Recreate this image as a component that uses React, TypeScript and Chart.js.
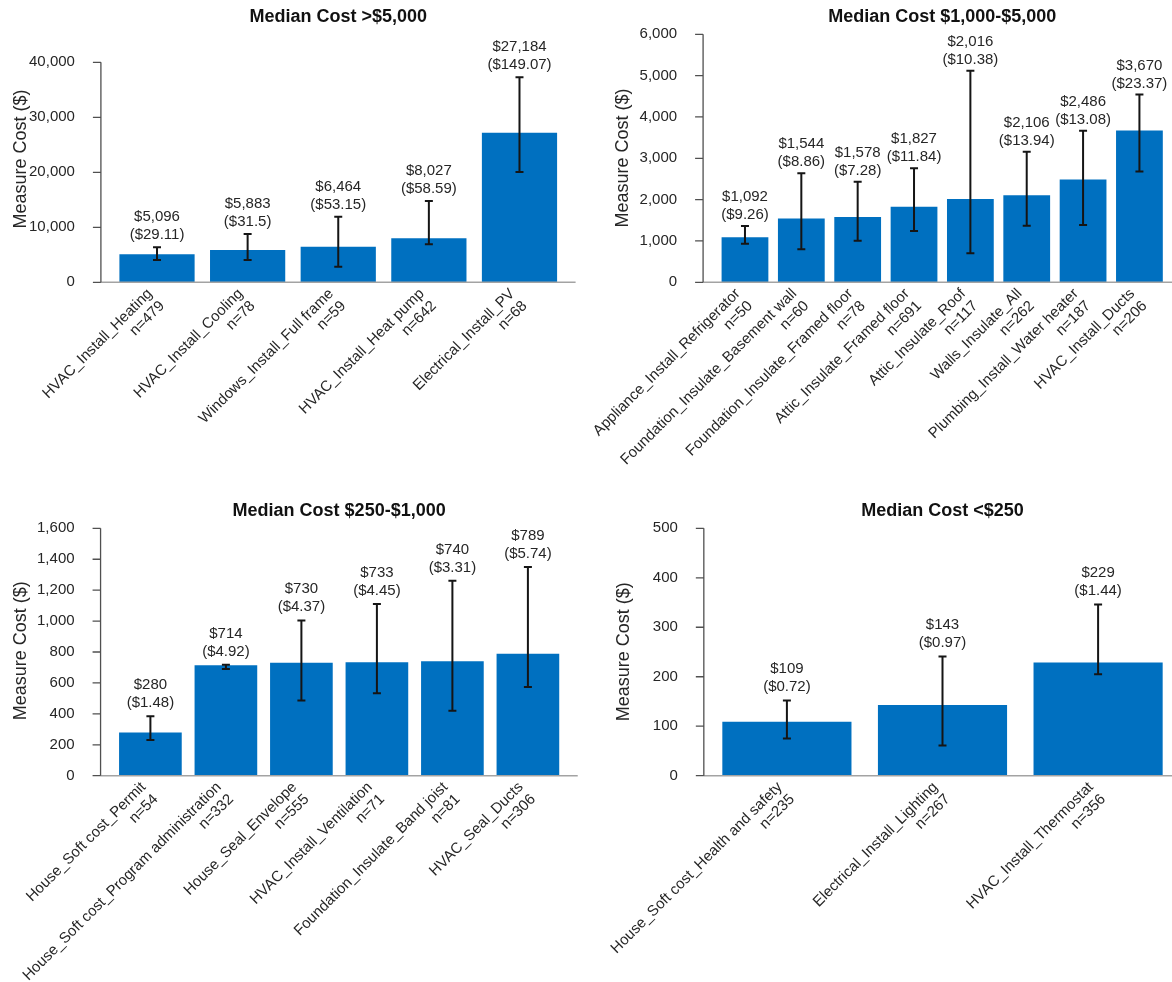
import React, { useEffect, useRef } from "react";
import { Chart, registerables } from "chart.js";

Chart.register(...registerables);

const FONT = '"Liberation Sans", Arial, Helvetica, sans-serif';
const TEXT = "#262626";
const BAR = "#0070C0";
const BAR_SHARE = 0.83;
const AXIS_MARGIN = 18.5;

// ---- Median Cost >$5,000
const bigMeasures = [
  "HVAC_Install_Heating",
  "HVAC_Install_Cooling",
  "Windows_Install_Full frame",
  "HVAC_Install_Heat pump",
  "Electrical_Install_PV",
];
const bigCounts = [479, 78, 59, 642, 68];
const bigMedian = [5096, 5883, 6464, 8027, 27184];
const bigPerUnit = [29.11, 31.5, 53.15, 58.59, 149.07];
const bigLow = [4050, 4050, 2840, 6910, 20050];
const bigHigh = [6360, 8780, 11930, 14780, 37270];
const bigTicks = [0, 10000, 20000, 30000, 40000];

// ---- Median Cost $1,000-$5,000
const midMeasures = [
  "Appliance_Install_Refrigerator",
  "Foundation_Insulate_Basement wall",
  "Foundation_Insulate_Framed floor",
  "Attic_Insulate_Framed floor",
  "Attic_Insulate_Roof",
  "Walls_Insulate_All",
  "Plumbing_Install_Water heater",
  "HVAC_Install_Ducts",
];
const midCounts = [50, 60, 78, 691, 117, 262, 187, 206];
const midMedian = [1092, 1544, 1578, 1827, 2016, 2106, 2486, 3670];
const midPerUnit = [9.26, 8.86, 7.28, 11.84, 10.38, 13.94, 13.08, 23.37];
const midLow = [935, 800, 1008, 1242, 700, 1368, 1387, 2678];
const midHigh = [1363, 2637, 2435, 2758, 5120, 3160, 3665, 4545];
const midTicks = [0, 1000, 2000, 3000, 4000, 5000, 6000];

// ---- Median Cost $250-$1,000
const lowMeasures = [
  "House_Soft cost_Permit",
  "House_Soft cost_Program administration",
  "House_Seal_Envelope",
  "HVAC_Install_Ventilation",
  "Foundation_Insulate_Band joist",
  "HVAC_Seal_Ducts",
];
const lowCounts = [54, 332, 555, 71, 81, 306];
const lowMedian = [280, 714, 730, 733, 740, 789];
const lowPerUnit = [1.48, 4.92, 4.37, 4.45, 3.31, 5.74];
const lowLow = [231, 690, 487, 533, 420, 574];
const lowHigh = [385, 718, 1003, 1110, 1261, 1350];
const lowTicks = [0, 200, 400, 600, 800, 1000, 1200, 1400, 1600];

// ---- Median Cost <$250
const smallMeasures = [
  "House_Soft cost_Health and safety",
  "Electrical_Install_Lighting",
  "HVAC_Install_Thermostat",
];
const smallCounts = [235, 267, 356];
const smallMedian = [109, 143, 229];
const smallPerUnit = [0.72, 0.97, 1.44];
const smallLow = [75, 61, 205];
const smallHigh = [152, 241, 346];
const smallTicks = [0, 100, 200, 300, 400, 500];

type Panel = {
  title: string;
  measures: string[];
  counts: number[];
  median: number[];
  perUnit: number[];
  low: number[];
  high: number[];
  ticks: number[];
  box: { left: number; top: number; width: number; height: number };
  plot: { left: number; right: number; top: number; bottom: number };
  titleY: number;
  yTitleY: number;
  labelGap: number;
};

const panels: Panel[] = [
  {
    title: "Median Cost >$5,000",
    measures: bigMeasures, counts: bigCounts, median: bigMedian, perUnit: bigPerUnit,
    low: bigLow, high: bigHigh, ticks: bigTicks,
    box: { left: 0, top: 0, width: 590, height: 490 },
    plot: { left: 111.7, right: 564.8, top: 62.3, bottom: 282.3 },
    titleY: 17.5, yTitleY: 159, labelGap: 12,
  },
  {
    title: "Median Cost $1,000-$5,000",
    measures: midMeasures, counts: midCounts, median: midMedian, perUnit: midPerUnit,
    low: midLow, high: midHigh, ticks: midTicks,
    box: { left: 590, top: 0, width: 600, height: 490 },
    plot: { left: 126.8, right: 577.6, top: 34.3, bottom: 282.3 },
    titleY: 17.5, yTitleY: 158, labelGap: 11,
  },
  {
    title: "Median Cost $250-$1,000",
    measures: lowMeasures, counts: lowCounts, median: lowMedian, perUnit: lowPerUnit,
    low: lowLow, high: lowHigh, ticks: lowTicks,
    box: { left: 0, top: 490, width: 590, height: 492 },
    plot: { left: 112.65, right: 565.65, top: 38.3, bottom: 285.7 },
    titleY: 20.7, yTitleY: 160.8, labelGap: 13.3,
  },
  {
    title: "Median Cost <$250",
    measures: smallMeasures, counts: smallCounts, median: smallMedian, perUnit: smallPerUnit,
    low: smallLow, high: smallHigh, ticks: smallTicks,
    box: { left: 590, top: 490, width: 600, height: 492 },
    plot: { left: 119.1, right: 585.9, top: 38.3, bottom: 285.7 },
    titleY: 20.7, yTitleY: 161.7, labelGap: 14,
  },
];

const money = (v: number) => "$" + v.toLocaleString("en-US");

// Axis lines, error bars, value labels and titles painted on top of the bars.
function decorations(p: Panel) {
  return {
    id: "decorations",
    afterDatasetsDraw(chart: any) {
      const { ctx } = chart;
      const y = chart.scales.y;
      const bars = chart.getDatasetMeta(0).data as any[];
      const first = bars[0];
      const last = bars[bars.length - 1];
      const axisL = first.x - first.width / 2 - AXIS_MARGIN;
      const axisR = last.x + last.width / 2 + AXIS_MARGIN;
      const base = y.getPixelForValue(0);
      const top = y.getPixelForValue(p.ticks[p.ticks.length - 1]);

      ctx.save();
      // category axis
      ctx.strokeStyle = "#a3a3a3";
      ctx.lineWidth = 1.5;
      ctx.beginPath();
      ctx.moveTo(axisL, base);
      ctx.lineTo(axisR, base);
      ctx.stroke();

      // value axis with outside tick marks
      ctx.strokeStyle = "#505050";
      ctx.lineWidth = 1.3;
      ctx.beginPath();
      ctx.moveTo(axisL, top);
      ctx.lineTo(axisL, base);
      y.ticks.forEach((t: any) => {
        const py = y.getPixelForValue(t.value);
        ctx.moveTo(axisL - 8, py);
        ctx.lineTo(axisL, py);
      });
      ctx.stroke();

      // error bars and value labels
      bars.forEach((b: any, i: number) => {
        const hi = y.getPixelForValue(p.high[i]);
        const lo = y.getPixelForValue(p.low[i]);
        ctx.strokeStyle = "#151515";
        ctx.lineWidth = 2;
        ctx.beginPath();
        ctx.moveTo(b.x, hi);
        ctx.lineTo(b.x, lo);
        ctx.moveTo(b.x - 4, hi);
        ctx.lineTo(b.x + 4, hi);
        ctx.moveTo(b.x - 4, lo);
        ctx.lineTo(b.x + 4, lo);
        ctx.stroke();

        ctx.fillStyle = TEXT;
        ctx.font = `15px ${FONT}`;
        ctx.textAlign = "center";
        ctx.textBaseline = "middle";
        const ly = hi - p.labelGap;
        ctx.fillText(`($${p.perUnit[i]})`, b.x, ly);
        ctx.fillText(money(p.median[i]), b.x, ly - 18);
      });

      // panel title
      ctx.fillStyle = "#111";
      ctx.font = `bold 18px ${FONT}`;
      ctx.textAlign = "center";
      ctx.textBaseline = "middle";
      ctx.fillText(p.title, (axisL + axisR) / 2, p.titleY);

      // value axis title
      ctx.fillStyle = TEXT;
      ctx.translate(axisL - 80, p.yTitleY);
      ctx.rotate(-Math.PI / 2);
      ctx.font = `18px ${FONT}`;
      ctx.fillText("Measure Cost ($)", 0, 0);
      ctx.restore();
    },
  };
}

function PanelChart({ p }: { p: Panel }) {
  const ref = useRef<HTMLCanvasElement | null>(null);

  useEffect(() => {
    if (!ref.current) return;
    const n = p.measures.length;
    const band = (p.plot.right - p.plot.left) / n;
    const barInset = (band * (1 - BAR_SHARE)) / 2;
    const yLabelPad = AXIS_MARGIN + 18 - barInset;
    const xHeight = p.box.height - p.plot.bottom;
    const step = p.ticks[1] - p.ticks[0];

    const chart = new Chart(ref.current, {
      type: "bar",
      data: {
        labels: p.measures.map((m, i) => [m, `n=${p.counts[i]}`]),
        datasets: [
          {
            data: p.median,
            backgroundColor: BAR,
            borderWidth: 0,
            categoryPercentage: 1,
            barPercentage: BAR_SHARE,
          },
        ],
      },
      options: {
        responsive: false,
        animation: false,
        devicePixelRatio: 1,
        layout: {
          padding: {
            left: 0,
            top: p.plot.top,
            right: p.box.width - p.plot.right,
            bottom: 0,
          },
        },
        plugins: {
          legend: { display: false },
          tooltip: { enabled: false },
          title: { display: false },
        },
        scales: {
          x: {
            offset: true,
            grid: { display: false },
            border: { display: false },
            ticks: {
              autoSkip: false,
              maxRotation: 45,
              minRotation: 45,
              padding: -5,
              labelOffset: -7,
              color: TEXT,
              font: { family: FONT, size: 15, lineHeight: 1.15 },
            },
            afterFit: (s: any) => {
              s.height = xHeight;
              s.paddingLeft = 0;
              s.paddingRight = 0;
            },
          },
          y: {
            min: p.ticks[0],
            max: p.ticks[p.ticks.length - 1],
            grid: { display: false },
            border: { display: false },
            ticks: {
              stepSize: step,
              padding: yLabelPad,
              color: TEXT,
              font: { family: FONT, size: 15 },
              callback: (v: any) => Number(v).toLocaleString("en-US"),
            },
            afterFit: (s: any) => {
              s.width = p.plot.left;
              s.paddingTop = 0;
              s.paddingBottom = 0;
            },
          },
        },
      },
      plugins: [decorations(p)],
    });
    return () => chart.destroy();
  }, [p]);

  return (
    <canvas
      ref={ref}
      width={p.box.width}
      height={p.box.height}
      style={{
        position: "absolute",
        left: p.box.left,
        top: p.box.top,
        width: p.box.width,
        height: p.box.height,
      }}
    />
  );
}

export default function App() {
  return (
    <div
      style={{
        position: "absolute",
        left: 0,
        top: 0,
        width: 1172,
        height: 982,
        overflow: "hidden",
        background: "#fff",
      }}
    >
      {panels.map((p) => (
        <PanelChart key={p.title} p={p} />
      ))}
    </div>
  );
}
